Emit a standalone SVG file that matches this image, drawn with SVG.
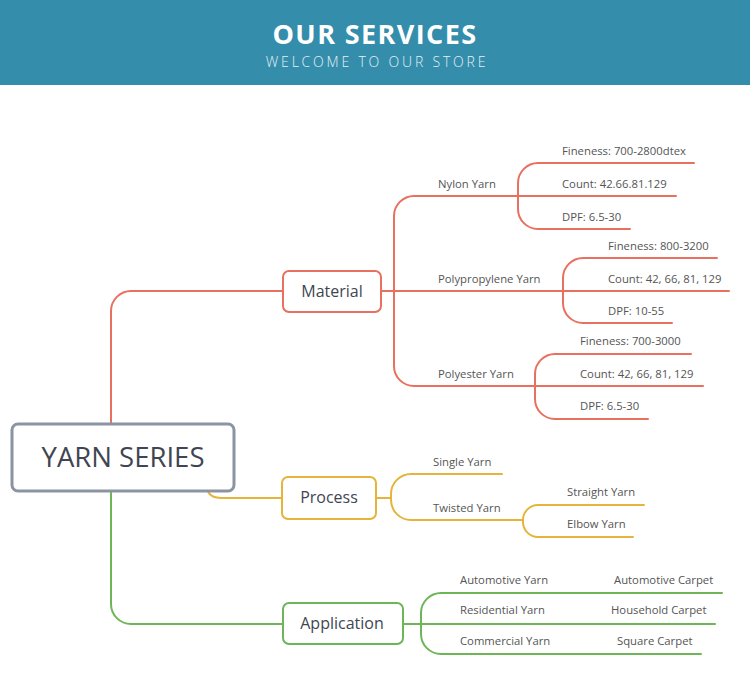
<svg xmlns="http://www.w3.org/2000/svg" width="750" height="697" viewBox="0 0 750 697">
<style>
.c{fill:none;stroke-width:2;stroke-linecap:round}
.r{stroke:#e8705e}.y{stroke:#e6b43a}.g{stroke:#6db557}
.box{fill:#fff;stroke-width:2}
.nt{font-family:"Open Sans","Liberation Sans",sans-serif;font-size:16px;fill:#3f4652;text-anchor:middle}
.lt{font-family:"Open Sans","Liberation Sans",sans-serif;font-size:11.3px;fill:#555}
</style>
<rect x="0" y="0" width="750" height="85" fill="#338dab"/>
<text x="375" y="44" text-anchor="middle" font-family="'Open Sans','Liberation Sans',sans-serif" font-weight="bold" font-size="27" letter-spacing="1.4" fill="#fff">OUR SERVICES</text>
<text x="377" y="67" text-anchor="middle" font-family="'Open Sans','Liberation Sans',sans-serif" font-weight="300" font-size="14" letter-spacing="2.8" fill="#e6f0f4">WELCOME TO OUR STORE</text>
<g id="connectors">
<path class="c r" d="M111,424 V311 A20,20 0 0 1 131,291 H283"/>
<path class="c r" d="M381,291 H729"/>
<path class="c r" d="M394,291 V216 A20,20 0 0 1 414,196 H676"/>
<path class="c r" d="M394,291 V366 A20,20 0 0 0 414,386 H703"/>
<path class="c r" d="M518,196 V183 A20,20 0 0 1 538,163 H694"/>
<path class="c r" d="M518,196 V209 A20,20 0 0 0 538,229 H630"/>
<path class="c r" d="M563,291 V278 A20,20 0 0 1 583,258 H717"/>
<path class="c r" d="M563,291 V303 A20,20 0 0 0 583,323 H672"/>
<path class="c r" d="M535,386 V374 A20,20 0 0 1 555,354 H691"/>
<path class="c r" d="M535,386 V399 A20,20 0 0 0 555,419 H648"/>
<path class="c y" d="M207,486 C207,494 212,498 222,498 H282"/>
<path class="c y" d="M376,498 H391"/>
<path class="c y" d="M391,498 V494 A20,20 0 0 1 411,474 H502"/>
<path class="c y" d="M391,498 V500 A20,20 0 0 0 411,520 H523"/>
<path class="c y" d="M523,520 A15,15 0 0 1 538,505 H644"/>
<path class="c y" d="M523,520 V522 A15,15 0 0 0 538,537 H633"/>
<path class="c g" d="M111,491 V604 A20,20 0 0 0 131,624 H283"/>
<path class="c g" d="M403,624 H715"/>
<path class="c g" d="M421,624 V613 A20,20 0 0 1 441,593 H722"/>
<path class="c g" d="M421,624 V634 A20,20 0 0 0 441,654 H701"/>
</g>
<g id="root">
<rect x="12" y="424" width="222" height="67" rx="6" fill="#fff" stroke="#8b94a3" stroke-width="3"/>
<text x="123" y="467" text-anchor="middle" font-family="'Open Sans','Liberation Sans',sans-serif" font-size="27.5" fill="#3f4652">YARN SERIES</text>
</g>
<g id="material">
<rect class="box r" x="283" y="271" width="98" height="41" rx="6"/>
<text class="nt" x="332" y="297">Material</text>
</g>
<g id="process">
<rect class="box y" x="282" y="477" width="94" height="42" rx="6"/>
<text class="nt" x="329" y="503">Process</text>
</g>
<g id="application">
<rect class="box g" x="283" y="603" width="120" height="41" rx="6"/>
<text class="nt" x="342" y="629">Application</text>
</g>
<g id="nylon"><text class="lt" x="438" y="188">Nylon Yarn</text></g>
<g id="nylon-fineness"><text class="lt" x="562" y="155">Fineness: 700-2800dtex</text></g>
<g id="nylon-count"><text class="lt" x="562" y="188">Count: 42.66.81.129</text></g>
<g id="nylon-dpf"><text class="lt" x="562" y="221">DPF: 6.5-30</text></g>
<g id="pp"><text class="lt" x="438" y="283">Polypropylene Yarn</text></g>
<g id="pp-fineness"><text class="lt" x="608" y="250">Fineness: 800-3200</text></g>
<g id="pp-count"><text class="lt" x="608" y="283">Count: 42, 66, 81, 129</text></g>
<g id="pp-dpf"><text class="lt" x="608" y="315">DPF: 10-55</text></g>
<g id="polyester"><text class="lt" x="438" y="378">Polyester Yarn</text></g>
<g id="pe-fineness"><text class="lt" x="580" y="345">Fineness: 700-3000</text></g>
<g id="pe-count"><text class="lt" x="580" y="378">Count: 42, 66, 81, 129</text></g>
<g id="pe-dpf"><text class="lt" x="580" y="410">DPF: 6.5-30</text></g>
<g id="single"><text class="lt" x="433" y="466">Single Yarn</text></g>
<g id="twisted"><text class="lt" x="433" y="512">Twisted Yarn</text></g>
<g id="straight"><text class="lt" x="567" y="496">Straight Yarn</text></g>
<g id="elbow"><text class="lt" x="567" y="528">Elbow Yarn</text></g>
<g id="auto-yarn"><text class="lt" x="460" y="584">Automotive Yarn</text></g>
<g id="auto-carpet"><text class="lt" x="614" y="584">Automotive Carpet</text></g>
<g id="res-yarn"><text class="lt" x="460" y="614">Residential Yarn</text></g>
<g id="house-carpet"><text class="lt" x="611" y="614">Household Carpet</text></g>
<g id="com-yarn"><text class="lt" x="460" y="645">Commercial Yarn</text></g>
<g id="square-carpet"><text class="lt" x="617" y="645">Square Carpet</text></g>
</svg>
